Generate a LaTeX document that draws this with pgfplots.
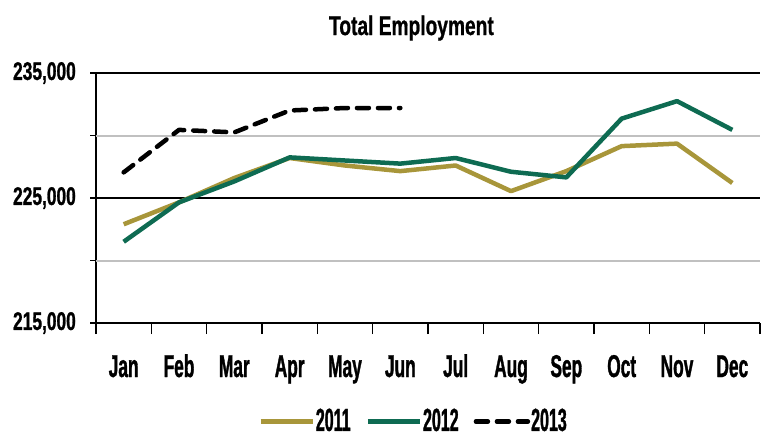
\documentclass[border=0pt]{standalone}
\usepackage{fontspec}
\setmainfont{Liberation Sans}[FakeStretch=0.68, FakeBold=1]
\newfontfamily\titlefont{Liberation Sans}[FakeStretch=0.71, FakeBold=0.8]
\newfontfamily\xfont{Liberation Sans}[FakeStretch=0.55, FakeBold=1]
\newfontfamily\legfont{Liberation Sans}[FakeStretch=0.5, FakeBold=1]
\usepackage{pgfplots}
\pgfplotsset{compat=1.18}
\definecolor{gold}{RGB}{168,150,58}
\definecolor{teal}{RGB}{14,107,82}
\definecolor{gridgray}{RGB}{192,192,192}
\newcommand\yf{\bfseries\fontsize{25.5bp}{30bp}\selectfont}
\newcommand\xf{\xfont\bfseries\fontsize{31.5bp}{34bp}\selectfont}
\newcommand\lf{\legfont\bfseries\fontsize{32bp}{36bp}\selectfont}
\begin{document}
\begin{tikzpicture}
\useasboundingbox (0,0) rectangle (767bp,-442bp);
\begin{axis}[
  at={(96bp,-323bp)}, anchor=south west,
  scale only axis, width=664bp, height=250bp,
  xmin=-0.5, xmax=11.5, ymin=215000, ymax=235000,
  scaled y ticks=false,
  axis lines*=left,
  axis line style={-, line width=2.2bp, black},
  tick align=outside,
  xtick={0,...,11},
  xticklabels={Jan,Feb,Mar,Apr,May,Jun,Jul,Aug,Sep,Oct,Nov,Dec},
  major x tick style={draw=none},
  minor xtick={-0.5,0.5,...,11.5},
  minor tick length=11bp,
  major tick length=6bp,
  minor x tick style={black, line width=1.5bp},
  ytick={215000,225000,235000},
  yticklabels={{215,000},{225,000},{235,000}},
  major y tick style={black, line width=1.5bp},
  ymajorgrids,
  major grid style={black, line width=2.4bp},
  extra y ticks={220000,230000},
  extra y tick labels={},
  extra y tick style={grid=major, major grid style={gridgray, line width=2bp}},
  xticklabel style={font=\xf, anchor=base, yshift=-48bp},
  yticklabel style={font=\yf, anchor=east, inner sep=0pt, xshift=-14bp},
  title={Total Employment},
  title style={font=\titlefont\bfseries\fontsize{27bp}{30bp}\selectfont, at={(axis description cs:0.475,1)}, anchor=base, yshift=32bp},
  legend columns=-1,
  legend style={draw=none, fill=none, font=\lf, at={(axis description cs:0.4775,-0.39)}, anchor=center,
    /tikz/every even column/.append style={column sep=14bp}, nodes={inner sep=1bp}},
  legend image code/.code={\draw[#1] (0bp,-1bp) -- (52bp,-1bp);},
]
\addplot[gold, line width=4.5bp, line join=round] coordinates {
(0,222900) (1,224650) (2,226600) (3,228200) (4,227600) (5,227150)
(6,227600) (7,225550) (8,227150) (9,229150) (10,229350) (11,226200)};
\addlegendentry{2011}
\addplot[teal, line width=4.5bp, line join=round] coordinates {
(0,221500) (1,224650) (2,226330) (3,228250) (4,228000) (5,227750)
(6,228200) (7,227100) (8,226650) (9,231350) (10,232750) (11,230450)};
\addlegendentry{2012}
\addplot[black, line width=4.5bp, dash pattern=on 12bp off 9bp, line cap=round, line join=round] coordinates {
(0,227050) (1,230450) (2,230250) (3,232000) (4,232200) (5,232200)};
\addlegendentry{2013}
\end{axis}
\end{tikzpicture}
\end{document}
